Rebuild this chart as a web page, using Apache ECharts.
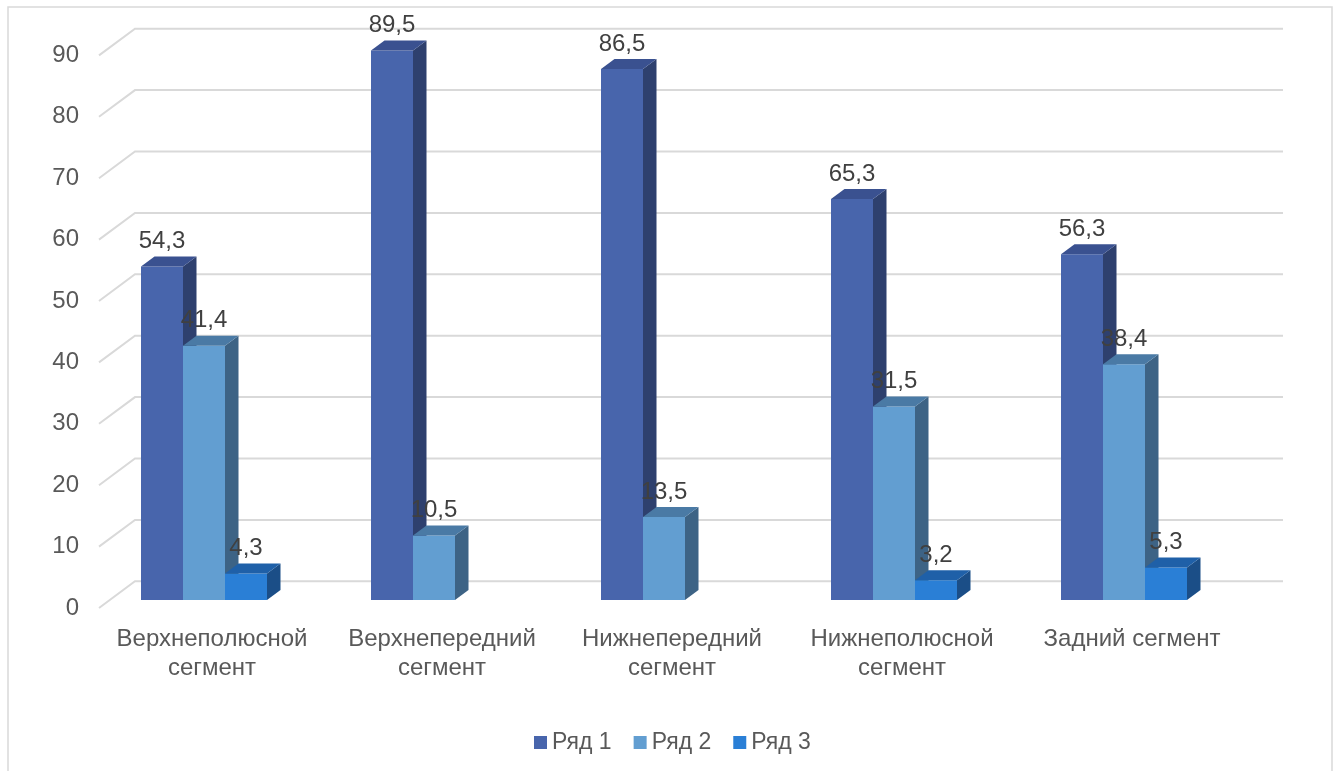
<!DOCTYPE html>
<html>
<head>
<meta charset="utf-8">
<script src="https://cdn.jsdelivr.net/npm/echarts@6/dist/echarts.min.js"></script>
<style>
  html, body { margin: 0; padding: 0; background: #fff; }
  #chart { width: 1338px; height: 771px; }
</style>
</head>
<body>
<div id="chart"></div>
<script>
const categories = ['Верхнеполюсной\nсегмент', 'Верхнепередний\nсегмент', 'Нижнепередний\nсегмент', 'Нижнеполюсной\nсегмент', 'Задний сегмент'];
const seriesNames = ['Ряд 1', 'Ряд 2', 'Ряд 3'];
const row1 = [54.3, 89.5, 86.5, 65.3, 56.3];
const row2 = [41.4, 10.5, 13.5, 31.5, 38.4];
const row3 = [4.3, null, null, 3.2, 5.3];
const yTicks = [0, 10, 20, 30, 40, 50, 60, 70, 80, 90];

const font = "'Liberation Sans', Arial, sans-serif";
// front / right side / top face colours for the fake 3d bars
const faces = [
  { front: '#4865ac', side: '#2e406e', top: '#3a5190' },
  { front: '#629ed1', side: '#3d6385', top: '#4a7aa5' },
  { front: '#2a7fd6', side: '#1b4e87', top: '#1f60a8' }
];
const barW = 42, depthX = 13.5, depthY = -10;

const chart = echarts.init(document.getElementById('chart'));

function fmt(v) {
  return v.toFixed(1).replace('.', ',');
}

function barSeries(name, values, s) {
  const c = faces[s];
  return {
    name: name,
    type: 'custom',
    clip: false,
    z: 10 + s,
    itemStyle: { color: c.front },
    encode: { x: 0, y: 1 },
    data: values.map((v, i) => [i, v == null ? '-' : v]),
    renderItem: function (params, api) {
      const v = api.value(1);
      if (v == null || isNaN(v)) return;
      const top = api.coord([api.value(0), v]);
      const base = api.coord([api.value(0), 0]);
      const x0 = top[0] - barW * 1.5 + s * barW;
      const x1 = x0 + barW;
      const yt = top[1], yb = base[1];
      return {
        type: 'group',
        children: [
          { type: 'rect', shape: { x: x0, y: yt, width: barW, height: yb - yt }, style: { fill: c.front } },
          { type: 'polygon', shape: { points: [[x1, yb], [x1 + depthX, yb + depthY], [x1 + depthX, yt + depthY], [x1, yt]] }, style: { fill: c.side } },
          { type: 'polygon', shape: { points: [[x0, yt], [x0 + depthX, yt + depthY], [x1 + depthX, yt + depthY], [x1, yt]] }, style: { fill: c.top } },
          {
            type: 'text', z2: 50,
            style: {
              x: x0 + barW / 2, y: yt - 25, text: fmt(v),
              align: 'center', verticalAlign: 'middle',
              fill: '#404040', font: '24px ' + font
            }
          }
        ]
      };
    }
  };
}

const option = {
  animation: false,
  textStyle: { fontFamily: font },
  graphic: [{
    type: 'rect',
    shape: { x: 8, y: 7, width: 1324, height: 800 },
    style: { fill: 'none', stroke: '#d9d9d9', lineWidth: 1.5 },
    silent: true
  }],
  legend: {
    data: seriesNames,
    icon: 'rect',
    itemWidth: 13,
    itemHeight: 13,
    itemGap: 22,
    left: 529,
    top: 726,
    textStyle: { fontSize: 23, color: '#595959', fontFamily: font }
  },
  grid: { left: 89, right: 99, top: 47.4, bottom: 171 },
  xAxis: {
    type: 'category',
    data: categories,
    axisLine: { show: false },
    axisTick: { show: false },
    axisLabel: {
      interval: 0,
      margin: 25,
      fontSize: 24,
      lineHeight: 29,
      color: '#595959',
      padding: [0, 0, 0, 16]
    }
  },
  yAxis: {
    type: 'value',
    min: 0,
    max: 90,
    interval: 10,
    show: false
  },
  series: [
    {
      // gridlines of the back wall plus the floor-side slants, with tick labels
      name: 'grid',
      type: 'custom',
      clip: false,
      silent: true,
      z: 1,
      encode: { x: 0, y: 1 },
      data: yTicks.map(t => [0, t]),
      renderItem: function (params, api) {
        const cs = params.coordSys;
        const y = api.coord([0, api.value(1)])[1];
        return {
          type: 'group',
          children: [
            {
              type: 'polyline',
              shape: { points: [[cs.x + 10, y + 8], [cs.x + 46, y - 18.7], [cs.x + cs.width + 44, y - 18.7]] },
              style: { stroke: '#d9d9d9', lineWidth: 2, fill: null }
            },
            {
              type: 'text',
              style: {
                x: 79, y: y + 8, text: String(api.value(1)),
                align: 'right', verticalAlign: 'middle',
                fill: '#595959', font: '24px ' + font
              }
            }
          ]
        };
      }
    },
    barSeries(seriesNames[0], row1, 0),
    barSeries(seriesNames[1], row2, 1),
    barSeries(seriesNames[2], row3, 2)
  ]
};

chart.setOption(option);
</script>
</body>
</html>
